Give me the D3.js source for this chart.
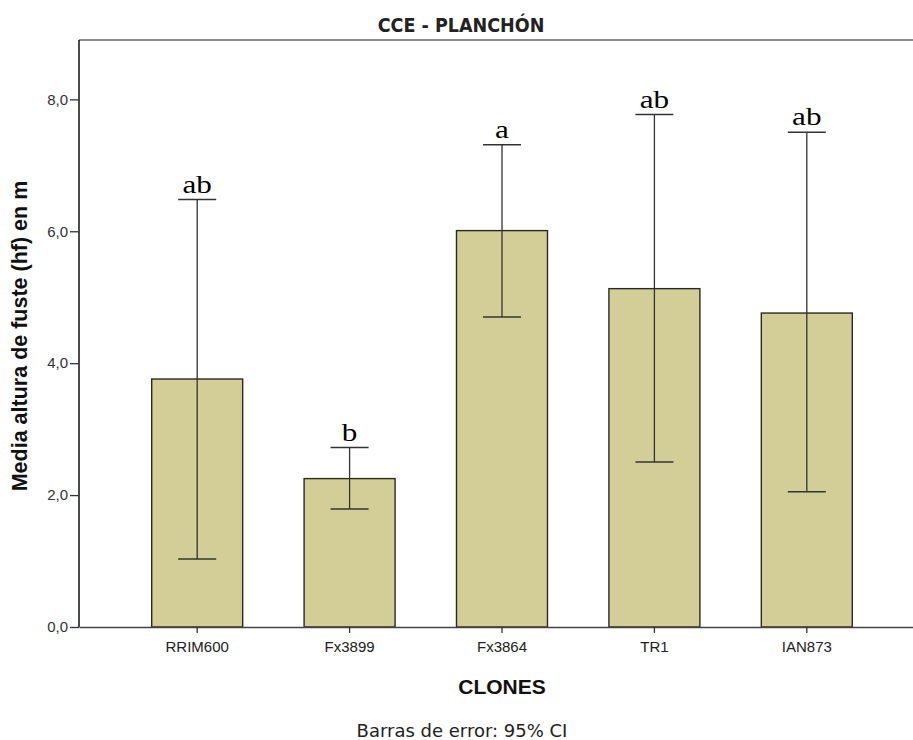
<!DOCTYPE html>
<html>
<head>
<meta charset="utf-8">
<script src="https://cdn.jsdelivr.net/npm/d3@7"></script>
<style>
  body { margin: 0; background: #fff; }
  svg { display: block; }
</style>
</head>
<body>
<div id="chart"></div>
<script>
const clones = ['RRIM600', 'Fx3899', 'Fx3864', 'TR1', 'IAN873']
const means = [3.76, 2.25, 6.01, 5.13, 4.76]
const ciLow = [1.03, 1.79, 4.70, 2.50, 2.05]
const ciHigh = [6.48, 2.72, 7.31, 7.77, 7.50]
const letters = ['ab', 'b', 'a', 'ab', 'ab']
const yTicks = [0, 2, 4, 6, 8]

const width = 913
const height = 740
const margin = { top: 40, left: 79, right: -12, bottom: 113 }

const svg = d3
  .select('#chart')
  .append('svg')
  .attr('width', width)
  .attr('height', height)

const x = d3
  .scaleBand()
  .domain(clones)
  .range([margin.left, width - margin.right])
  .paddingInner(0.403)
  .paddingOuter(0.477)

const y = d3
  .scaleLinear()
  .domain([0, 8.9])
  .range([height - margin.bottom, margin.top])

const data = clones.map((c, i) => ({
  clone: c,
  mean: means[i],
  lo: ciLow[i],
  hi: ciHigh[i],
  letter: letters[i]
}))

const arial = 'Arial, "Liberation Sans", sans-serif'

// top frame line
svg
  .append('line')
  .attr('x1', margin.left)
  .attr('x2', width)
  .attr('y1', margin.top)
  .attr('y2', margin.top)
  .attr('stroke', '#8a8a8a')
  .attr('stroke-width', 2)

// bars
svg
  .selectAll('.bar')
  .data(data)
  .enter()
  .append('rect')
  .attr('class', 'bar')
  .attr('x', d => x(d.clone))
  .attr('width', x.bandwidth())
  .attr('y', d => y(d.mean))
  .attr('height', d => y(0) - y(d.mean))
  .attr('fill', '#d3ce98')
  .attr('stroke', '#2a2a22')
  .attr('stroke-width', 1.4)

// error bars + significance letters
const cap = 19
svg
  .selectAll('.err')
  .data(data)
  .enter()
  .append('g')
  .attr('class', 'err')
  .attr('transform', d => `translate(${x(d.clone) + x.bandwidth() / 2},0)`)
  .each(function(d) {
    const g = d3.select(this)
    g.append('line')
      .attr('y1', y(d.lo))
      .attr('y2', y(d.hi))
      .attr('stroke', '#333')
      .attr('stroke-width', 1.3)
    g.append('line')
      .attr('x1', -cap)
      .attr('x2', cap)
      .attr('y1', y(d.hi))
      .attr('y2', y(d.hi))
      .attr('stroke', '#333')
      .attr('stroke-width', 1.5)
    g.append('line')
      .attr('x1', -cap)
      .attr('x2', cap)
      .attr('y1', y(d.lo))
      .attr('y2', y(d.lo))
      .attr('stroke', '#333')
      .attr('stroke-width', 1.5)
    g.append('text')
      .text(d.letter)
      .attr('transform', `translate(0,${y(d.hi) - 7}) scale(1.2,1)`)
      .attr('text-anchor', 'middle')
      .attr('font-family', '"Liberation Serif", "Times New Roman", serif')
      .attr('font-size', 26)
      .attr('fill', '#000')
  })

// y axis
const yAxis = svg
  .append('g')
  .attr('transform', `translate(${margin.left},0)`)
  .call(
    d3
      .axisLeft(y)
      .tickValues(yTicks)
      .tickSize(9)
      .tickPadding(2)
      .tickFormat(d => d3.format('.1f')(d).replace('.', ','))
  )
yAxis.select('.domain').attr('d', `M0,${y(0)}V${margin.top}`).attr('stroke', '#111').attr('stroke-width', 1.5)
yAxis.selectAll('.tick line').attr('stroke', '#333').attr('stroke-width', 1.3)
yAxis
  .selectAll('.tick text')
  .attr('font-family', arial)
  .attr('font-size', 15)
  .attr('fill', '#333')

// x axis
const xAxis = svg
  .append('g')
  .attr('transform', `translate(0,${y(0)})`)
  .call(d3.axisBottom(x).tickSize(6).tickPadding(8).tickSizeOuter(0))
xAxis.select('.domain').attr('stroke', '#444').attr('stroke-width', 1.6)
xAxis.selectAll('.tick line').attr('stroke', '#333').attr('stroke-width', 1.3)
xAxis
  .selectAll('.tick text')
  .attr('font-family', arial)
  .attr('font-size', 15)
  .attr('fill', '#222')

// title
svg
  .append('text')
  .text('CCE - PLANCHÓN')
  .attr('x', 461)
  .attr('y', 32)
  .attr('text-anchor', 'middle')
  .attr('font-family', '"Liberation Sans Narrow", "DejaVu Sans Condensed", Arial, sans-serif')
  .attr('font-weight', 'bold')
  .attr('font-size', 19.5)
  .attr('fill', '#222')

// x label
svg
  .append('text')
  .text('CLONES')
  .attr('x', 502)
  .attr('y', 694)
  .attr('text-anchor', 'middle')
  .attr('font-family', arial)
  .attr('font-weight', 'bold')
  .attr('font-size', 21)
  .attr('fill', '#111')

// y label
svg
  .append('text')
  .text('Media altura de fuste (hf) en m')
  .attr('transform', 'translate(27,336) rotate(-90)')
  .attr('text-anchor', 'middle')
  .attr('font-family', arial)
  .attr('font-weight', 'bold')
  .attr('font-size', 21.5)
  .attr('fill', '#111')

// footnote
svg
  .append('text')
  .text('Barras de error: 95% CI')
  .attr('x', 462)
  .attr('y', 737)
  .attr('text-anchor', 'middle')
  .attr('font-family', '"DejaVu Sans", Verdana, sans-serif')
  .attr('font-size', 18)
  .attr('fill', '#222')
</script>
</body>
</html>
